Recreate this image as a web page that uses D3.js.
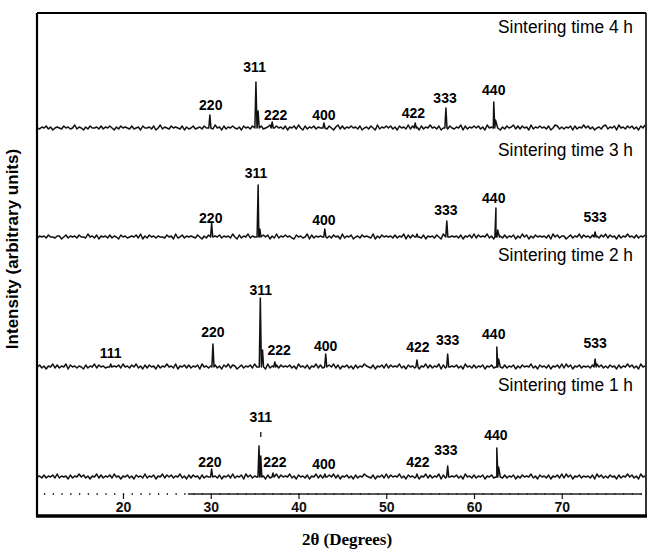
<!DOCTYPE html>
<html>
<head>
<meta charset="utf-8">
<script src="https://cdn.jsdelivr.net/npm/d3@7"></script>
<style>
  body { margin: 0; background: #fff; }
  svg { display: block; }
  .hkl { font-family: "Liberation Sans", Arial, sans-serif; font-weight: bold; font-size: 14px; }
  .cond { font-family: "Liberation Sans", Arial, sans-serif; font-size: 18px; }
</style>
</head>
<body>
<svg width="648" height="551"></svg>
<script>
// 2-theta tick labels
const xTicks = [20, 30, 40, 50, 60, 70];

// sample names, top to bottom, their vertical stacking and the level of their caption (intensity units)
const samples = ["Sintering time 4 h", "Sintering time 3 h", "Sintering time 2 h", "Sintering time 1 h"];
const stackOffsets = [349, 240, 110, 0];
const captionLevels = [101, 87, 112, 92];

// peaks: [2theta, height, half width]
const peaks4h = [[29.9, 13], [35.15, 46], [35.4, 17], [37.0, 6], [42.9, 5], [53.3, 5], [56.8, 20], [62.25, 26], [62.45, 8, 0.25]];
const peaks3h = [[30.1, 14], [35.4, 52], [35.6, 8], [43.0, 8], [53.5, 3], [56.9, 16], [62.5, 29], [62.7, 7, 0.2], [73.8, 5]];
const peaks2h = [[18.6, 3], [30.25, 23], [35.65, 69], [35.9, 17], [37.3, 5], [43.1, 13], [53.5, 7], [57.0, 13], [62.6, 20], [62.8, 8, 0.2], [73.8, 8]];
const peaks1h = [[30.1, 8], [35.5, 31], [35.7, 21], [37.1, 4], [43.0, 3], [53.5, 3], [57.0, 11], [62.6, 29], [62.8, 10, 0.2]];

// peak labels: [hkl, 2theta, level]
const labels4h = [["220", 30.0, 23], ["311", 35.0, 61], ["222", 37.4, 13], ["400", 42.9, 13], ["422", 53.1, 15], ["333", 56.7, 30], ["440", 62.25, 38]];
const labels3h = [["220", 30.0, 19], ["311", 35.15, 64], ["400", 42.9, 17], ["333", 56.8, 27], ["440", 62.25, 39], ["533", 73.8, 20]];
const labels2h = [["111", 18.6, 14], ["220", 30.25, 35], ["311", 35.7, 77], ["222", 37.8, 17], ["400", 43.1, 21], ["422", 53.6, 20], ["333", 57.0, 27], ["440", 62.25, 33], ["533", 73.8, 24]];
const labels1h = [["220", 29.9, 15], ["311", 35.7, 60], ["222", 37.3, 15], ["400", 42.9, 13], ["422", 53.6, 15], ["333", 56.8, 27], ["440", 62.5, 42]];
const marker1h = [35.7, 40, 45];

// baseline noise, one digit per 0.25 deg starting at 10.25 deg
const noise4h = `3243524134 3253423624 3142533425 2435314253 4325234153 3425136243 2534325142 3523425314 2634152435 3241534253
 4152346235 3425143526 3152435243 3425314625 2435342513 4253162435 3524153426 2534152436 3425134253 2436152435
 3524163425 3142534625 2534162435 3425136524 2435152436 3524134256 2435163425 3524153624`;
const noise3h = `2434253324 4135243425 3326342514 3425243153 4234352614 2534243325 3416235243 4325314253 2435243426 3152436243
 3425351426 2435342153 4236152434 3524253416 2435134253 4326142534 3425243615 2534325143 4253162534 3425143526
 2534362415 3425243514 2635142534 3425163524 4135243625 3425142536 2534152436 3425243516`;
const noise2h = `3524143625 2436153424 3152436253 4235143526 3425362415 2534152436 3426143525 2435163424 3524153625 4135243526
 3425162435 2534352416 3425143625 2435362514 3524152436 4325143526 2534362415 3425143625 2436152534 3524163425
 2435143526 3625243514 2534362415 3425143526 2635143524 3425163524 2534152436 3524163425`;
const noise1h = `3425243526 2434152436 3524143625 2435263414 3524153426 2435143625 3524362415 2534152436 3425143526 2435163524
 3524152436 2534362415 3425143625 2435362514 3524152436 4325143526 2534362415 3425143625 2436152534 3524163425
 2435143526 3625243514 2534362415 3425143526 2635143524 3425163524 2534152436 3524163425`;

const allPeaks = [peaks4h, peaks3h, peaks2h, peaks1h];
const allLabels = [labels4h, labels3h, labels2h, labels1h];
const allNoise = [noise4h, noise3h, noise2h, noise1h];

const svg = d3.select("svg");

const x = d3.scaleLinear().domain([10.2, 79.6]).range([37, 646]);
const y = d3.scaleLinear().domain([0, 100]).range([477, 377]);

function tracePoints(peaks, noise) {
  const pts = [];
  noise.replace(/\s/g, "").split("").forEach((c, i) => {
    const a = 10.25 + i * 0.25;
    if (a > 79.5) return;
    if (peaks.some(p => Math.abs(a - p[0]) < (p[2] || 0.12) + 0.05)) return;
    pts.push([a, (+c - 3) * 1.0]);
  });
  peaks.forEach(p => {
    const w = p[2] || 0.12;
    pts.push([p[0] - w, 0], [p[0], p[1]], [p[0] + w, 0]);
  });
  return pts.sort((a, b) => a[0] - b[0]);
}

const g = svg.append("g");

samples.forEach((name, i) => {
  const off = stackOffsets[i];
  const line = d3.line().x(d => x(d[0])).y(d => y(d[1] + off));

  g.append("path")
    .datum(tracePoints(allPeaks[i], allNoise[i]))
    .attr("d", line)
    .attr("fill", "none")
    .attr("stroke", "#111")
    .attr("stroke-width", 1.5)
    .attr("stroke-linejoin", "round");

  g.selectAll(null)
    .data(allLabels[i])
    .enter().append("text")
    .attr("class", "hkl")
    .attr("x", d => x(d[1]))
    .attr("y", d => y(d[2] + off))
    .attr("dy", "0.36em")
    .attr("text-anchor", "middle")
    .text(d => d[0]);

  g.append("text")
    .attr("class", "cond")
    .attr("x", 633)
    .attr("y", y(off + captionLevels[i]))
    .attr("dy", "0.35em")
    .attr("text-anchor", "end")
    .attr("textLength", 135)
    .attr("lengthAdjust", "spacingAndGlyphs")
    .text(name);
});

// small mark between the 311 label and peak of the 1 h pattern
g.append("line")
  .attr("x1", x(marker1h[0])).attr("x2", x(marker1h[0]))
  .attr("y1", y(marker1h[1])).attr("y2", y(marker1h[2]))
  .attr("stroke", "#111").attr("stroke-width", 1.3);

// axis inside the frame: minor ticks every degree, line drawn only from ~27 deg
const axisY = 494;
const minor = d3.axisBottom(x).tickValues(d3.range(11, 80, 1)).tickSize(2).tickFormat("");
svg.append("g").attr("transform", `translate(0,${axisY - 1})`).call(minor)
  .call(s => s.select(".domain").remove())
  .selectAll("line").attr("stroke", "#333").attr("stroke-width", 1.3);

const major = d3.axisBottom(x).tickValues(xTicks).tickSize(5).tickPadding(3).tickFormat(d3.format("d"));
const ax = svg.append("g").attr("transform", `translate(0,${axisY})`).call(major);
ax.select(".domain").remove();
ax.selectAll("line").attr("stroke", "#111").attr("stroke-width", 1.2);
ax.selectAll("text")
  .attr("font-family", "'Liberation Sans', Arial, sans-serif")
  .attr("font-weight", "bold")
  .attr("font-size", 14)
  .attr("fill", "#111");

svg.append("line")
  .attr("x1", x(27.4)).attr("x2", x(79.1))
  .attr("y1", axisY).attr("y2", axisY)
  .attr("stroke", "#222").attr("stroke-width", 1.4);

// frame
const fr = { l: 37, t: 13, r: 646, b: 516 };
svg.append("line").attr("x1", fr.l).attr("x2", fr.r).attr("y1", fr.t).attr("y2", fr.t).attr("stroke", "#000").attr("stroke-width", 2.2);
svg.append("line").attr("x1", fr.l).attr("x2", fr.l).attr("y1", fr.t).attr("y2", fr.b).attr("stroke", "#000").attr("stroke-width", 2.2);
svg.append("line").attr("x1", fr.r).attr("x2", fr.r).attr("y1", fr.t).attr("y2", fr.b).attr("stroke", "#000").attr("stroke-width", 1.6);
svg.append("line").attr("x1", fr.l - 1).attr("x2", fr.r + 1).attr("y1", fr.b).attr("y2", fr.b).attr("stroke", "#000").attr("stroke-width", 3.6);

// axis titles
svg.append("text")
  .attr("x", 347).attr("y", 545)
  .attr("text-anchor", "middle")
  .attr("font-family", "'Liberation Serif', 'Times New Roman', serif")
  .attr("font-weight", "bold")
  .attr("font-size", 17)
  .text("2θ (Degrees)");

svg.append("text")
  .attr("transform", "translate(18,249) rotate(-90)")
  .attr("text-anchor", "middle")
  .attr("font-family", "'Liberation Sans', Arial, sans-serif")
  .attr("font-weight", "bold")
  .attr("font-size", 17)
  .text("Intensity (arbitrary units)");
</script>
</body>
</html>
